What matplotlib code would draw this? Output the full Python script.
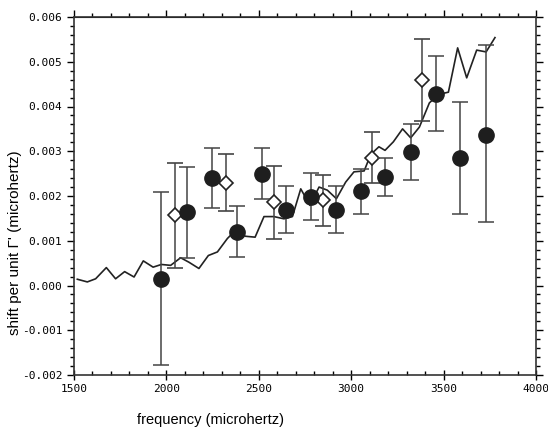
import matplotlib
matplotlib.use("Agg")
import matplotlib.pyplot as plt
from matplotlib.ticker import MultipleLocator, FormatStrFormatter

# model curve
line_f = [1518, 1572, 1617, 1675, 1725, 1774, 1825, 1875, 1928, 1973, 2023, 2077,
          2122, 2176, 2227, 2276, 2330, 2366, 2429, 2480, 2528, 2582, 2636, 2682,
          2727, 2777, 2826, 2871, 2920, 2970, 3015, 3070, 3106, 3150, 3183, 3228,
          3278, 3322, 3369, 3423, 3472, 3526, 3576, 3625, 3679, 3730, 3778]
line_v = [0.00014, 0.00008, 0.00015, 0.00040, 0.00015, 0.00031, 0.00019, 0.00055,
          0.00041, 0.00047, 0.00045, 0.00062, 0.00052, 0.00038, 0.00067, 0.00075,
          0.00105, 0.00120, 0.00110, 0.00108, 0.00154, 0.00154, 0.00149, 0.00154,
          0.00216, 0.00179, 0.00220, 0.00213, 0.00194, 0.00231, 0.00254, 0.00256,
          0.00293, 0.00310, 0.00302, 0.00321, 0.00350, 0.00330, 0.00354, 0.00408,
          0.00427, 0.00432, 0.00531, 0.00464, 0.00526, 0.00522, 0.00554]

# filled circles
circ_f = [1973, 2113, 2245, 2380, 2516, 2649, 2781, 2916, 3051, 3183, 3322, 3457, 3589, 3728]
circ_v = [0.00015, 0.00164, 0.00240, 0.00120, 0.00250, 0.00169, 0.00198, 0.00169,
          0.00211, 0.00242, 0.00298, 0.00429, 0.00285, 0.00337]
circ_hi = [0.00209, 0.00265, 0.00308, 0.00178, 0.00308, 0.00222, 0.00252, 0.00222,
           0.00261, 0.00286, 0.00360, 0.00512, 0.00411, 0.00537]
circ_lo = [-0.00178, 0.00061, 0.00174, 0.00064, 0.00193, 0.00117, 0.00146, 0.00117,
           0.00160, 0.00200, 0.00236, 0.00346, 0.00160, 0.00142]

# open diamonds
diam_f = [2045, 2323, 2582, 2847, 3115, 3385]
diam_v = [0.00158, 0.00229, 0.00187, 0.00192, 0.00286, 0.00460]
diam_hi = [0.00274, 0.00293, 0.00266, 0.00247, 0.00342, 0.00550]
diam_lo = [0.00039, 0.00166, 0.00105, 0.00134, 0.00229, 0.00368]

fig = plt.figure(figsize=(5.48, 4.30), dpi=100)
ax = fig.add_axes([74/548, 1 - 375/430, 462/548, 358/430])

ax.plot(line_f, line_v, color='#222222', lw=1.2, zorder=2)

err_c = [[v - l for v, l in zip(circ_v, circ_lo)], [h - v for v, h in zip(circ_v, circ_hi)]]
err_d = [[v - l for v, l in zip(diam_v, diam_lo)], [h - v for v, h in zip(diam_v, diam_hi)]]

ax.errorbar(diam_f, diam_v, yerr=err_d, fmt='D', ms=7.5, mfc='white', mec='#222222',
            mew=1.2, ecolor='#444444', elinewidth=1.1, capsize=5.5, capthick=1.1, zorder=3)
ax.errorbar(circ_f, circ_v, yerr=err_c, fmt='o', ms=11, mfc='#1e1e1e', mec='#1e1e1e',
            ecolor='#444444', elinewidth=1.1, capsize=5.5, capthick=1.1, zorder=4)

ax.set_xlim(1500, 4000)
ax.set_ylim(-0.002, 0.006)
ax.xaxis.set_major_locator(MultipleLocator(500))
ax.xaxis.set_minor_locator(MultipleLocator(100))
ax.yaxis.set_major_locator(MultipleLocator(0.001))
ax.yaxis.set_minor_locator(MultipleLocator(0.0002))
ax.yaxis.set_major_formatter(FormatStrFormatter('%.3f'))

for s in ax.spines.values():
    s.set_linewidth(1.2)
    s.set_color('#333333')

ax.tick_params(axis='x', which='major', direction='inout', length=7, width=1, bottom=True, top=False,
               labelsize=8, pad=3)
ax.tick_params(axis='x', which='minor', direction='in', length=3, width=1, bottom=True, top=False)
ax.tick_params(axis='y', which='major', direction='out', length=5, width=1, left=True, right=True,
               labelsize=8)
ax.tick_params(axis='y', which='minor', direction='out', length=3, width=1, left=True, right=True)
for lab in ax.get_xticklabels() + ax.get_yticklabels():
    lab.set_family('DejaVu Sans Mono')

top = ax.secondary_xaxis('top')
top.xaxis.set_major_locator(MultipleLocator(500))
top.xaxis.set_minor_locator(MultipleLocator(100))
top.tick_params(which='major', direction='out', length=5, width=1, labeltop=False)
top.tick_params(which='minor', direction='out', length=3, width=1)

ax.set_xlabel('frequency (microhertz)', fontsize=10.5, family='Liberation Sans')
ax.xaxis.set_label_coords(0.296, -0.105)
ax.set_ylabel("shift per unit \u0393' (microhertz)", fontsize=11, family='Liberation Sans')
ax.yaxis.set_label_coords(-0.112, 0.37)

fig.savefig('out.png', dpi=100)
